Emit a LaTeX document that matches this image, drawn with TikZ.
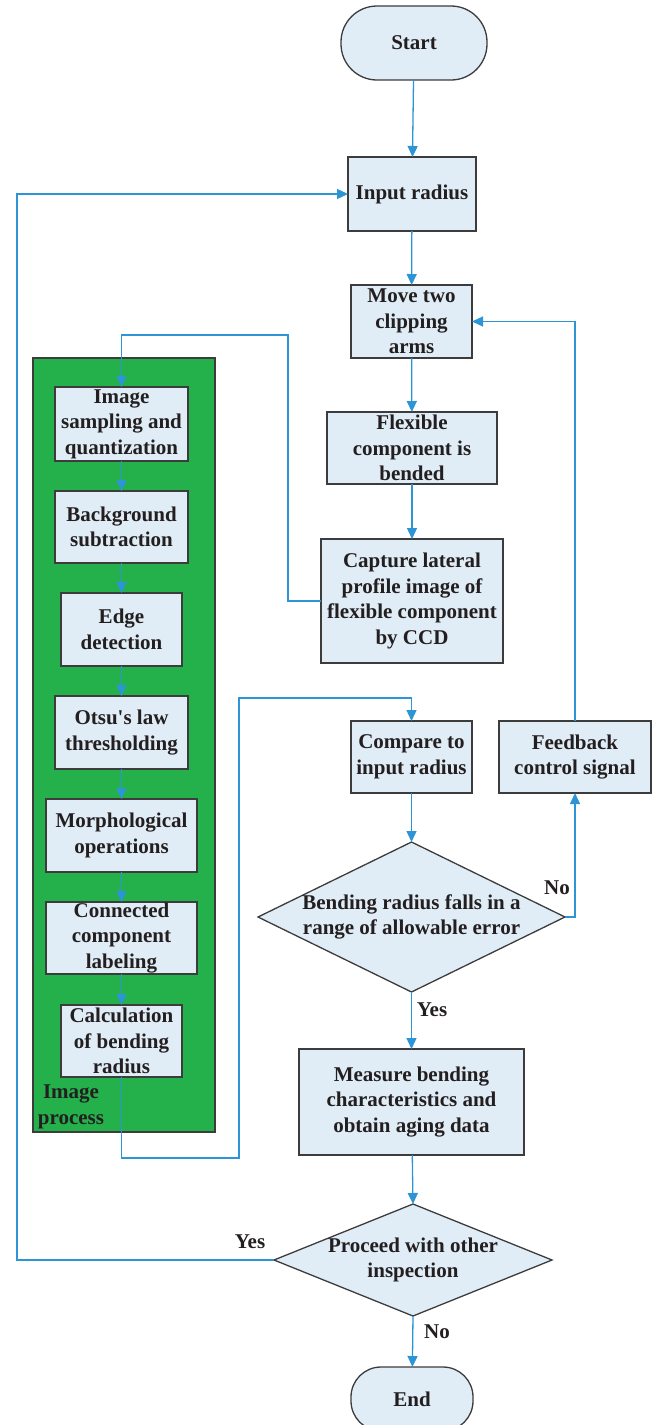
\documentclass[tikz,border=0pt]{standalone}
\usepackage{fontspec}
\setmainfont{Liberation Serif}
\usetikzlibrary{arrows.meta, shapes.geometric}
\definecolor{lineblue}{HTML}{2D94D5}
\definecolor{boxfill}{HTML}{E1EDF6}
\definecolor{boxline}{HTML}{3C3C3C}
\definecolor{procgreen}{HTML}{24B14C}
\definecolor{txt}{HTML}{231F20}

\begin{document}
\begin{tikzpicture}[x=1pt, y=-1pt,
    every node/.style={font=\fontsize{21}{25.5}\selectfont\bfseries, text=txt,
        align=center, inner sep=0pt, outer sep=0pt},
    box/.style={draw=boxline, fill=boxfill, line width=1.3pt},
    term/.style={box, rounded corners=#1},
    term/.default=36,
    dec/.style={box, diamond},
    arr/.style={draw=lineblue, line width=1.3pt, -{Triangle[length=11pt, width=10pt]}},
    conn/.style={draw=lineblue, line width=1.3pt}]
    \useasboundingbox (0,0) rectangle (658,1425);

    % image process panel
    \node[draw=boxline, fill=procgreen, line width=1.3pt, minimum width=182, minimum height=774]
        (panel) at (124,745) {};
    \node (plabel) at (71,1107) {Image\\process};

    \node[box, minimum width=133, minimum height=74] (s1) at (121.5,424) {Image\\sampling and\\quantization};
    \node[box, minimum width=133, minimum height=72] (s2) at (121.5,527) {Background\\subtraction};
    \node[box, minimum width=121, minimum height=73] (s3) at (121.5,629.5) {Edge\\detection};
    \node[box, minimum width=133, minimum height=73] (s4) at (121.5,732.5) {Otsu\textquotesingle s law\\thresholding};
    \node[box, minimum width=151, minimum height=73] (s5) at (121.5,835.5) {Morphological\\operations};
    \node[box, minimum width=151, minimum height=72] (s6) at (121.5,938) {Connected\\component\\labeling};
    \node[box, minimum width=121, minimum height=72] (s7) at (121.5,1041) {Calculation\\of bending\\radius};

    % main column
    \node[term, minimum width=146, minimum height=74] (start) at (414,43) {Start};
    \node[box, minimum width=128, minimum height=74] (inp) at (412,194) {Input radius};
    \node[box, minimum width=121, minimum height=73] (move) at (411.5,321.5) {Move two\\clipping\\arms};
    \node[box, minimum width=170, minimum height=72] (flex) at (412,448) {Flexible\\component is\\bended};
    \node[box, minimum width=182, minimum height=124] (capt) at (412,601) {Capture lateral\\profile image of\\flexible component\\by CCD};
    \node[box, minimum width=121, minimum height=72] (comp) at (411.5,757) {Compare to\\input radius};
    \node[box, minimum width=152, minimum height=72] (fb) at (575,757) {Feedback\\control signal};
    \node[dec, minimum width=307, minimum height=150,
        label=center:{Bending radius falls in a\\range of allowable error}] (dec1) at (411.5,917) {};
    \node[box, minimum width=225, minimum height=106] (meas) at (411.5,1102) {Measure bending\\characteristics and\\obtain aging data};
    \node[dec, minimum width=278, minimum height=112,
        label=center:{Proceed with other\\inspection}] (dec2) at (413,1260) {};
    \node[term=30, minimum width=122, minimum height=64] (stop) at (412,1399) {End};

    \node (yes1) at (432,1010) {Yes};
    \node (no1) at (557,888) {No};
    \node (yes2) at (250,1242) {Yes};
    \node (no2) at (437,1332) {No};

    \coordinate (lx) at (17,194);
    \coordinate (c1) at (288,335);
    \coordinate (c2) at (239,1158);
    \coordinate (c3) at (239,698);

    \draw[arr] (start) -- (inp);
    \draw[arr] (inp) -- (move);
    \draw[arr] (move) -- (flex);
    \draw[arr] (flex) -- (capt);
    \draw[arr] (capt.west) -| (c1) -| (s1.north);
    \foreach \a/\b in {s1/s2, s2/s3, s3/s4, s4/s5, s5/s6, s6/s7}
        \draw[arr] (\a) -- (\b);
    \draw[arr] (s7.south) |- (c2) -- (c3) -| (comp.north);
    \draw[arr] (comp) -- (dec1.north);
    \draw[arr] (dec1.east) -| (fb.south);
    \draw[arr] (fb.north) |- (move.east);
    \draw[arr] (dec1.south) -- (meas);
    \draw[arr] (meas) -- (dec2.north);
    \draw[arr] (dec2.south) -- (stop);
    \draw[arr] (dec2.west) -- (dec2.west -| lx) -- (lx) -- (inp.west);
\end{tikzpicture}
\end{document}
